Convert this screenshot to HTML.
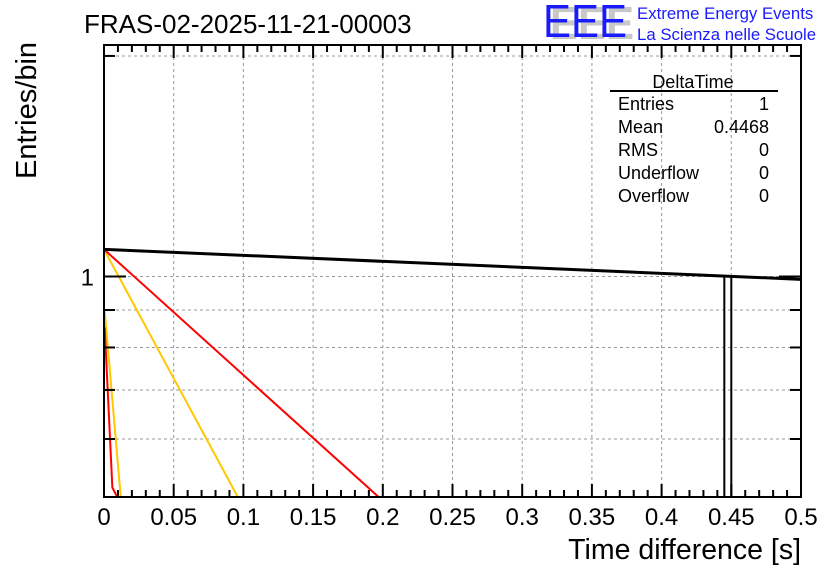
<!DOCTYPE html>
<html><head><meta charset="utf-8"><style>
html,body{margin:0;padding:0;background:#fff;}
svg{display:block;font-family:"Liberation Sans",Arial,sans-serif;}
</style></head><body>
<svg id="chart" width="836" height="572" viewBox="0 0 836 572" xmlns="http://www.w3.org/2000/svg">
<rect width="836" height="572" fill="#fff"/>
<text x="84" y="33" font-size="26" fill="#000">FRAS-02-2025-11-21-00003</text>
<g>
<text x="550" y="39" font-size="46" fill="#c8c8c8" font-weight="bold" textLength="84" lengthAdjust="spacingAndGlyphs">EEE</text>
<text x="543" y="37" font-size="46" fill="#1a1aff" textLength="84" lengthAdjust="spacingAndGlyphs">EEE</text>
<text x="637" y="19" font-size="16.8" fill="#1a1aff">Extreme Energy Events</text>
<text x="637" y="40" font-size="16.8" fill="#1a1aff">La Scienza nelle Scuole</text>
</g>
<g id="grid"></g>
<g id="marks"></g>
<g id="axes"></g>
<text transform="translate(36,179) rotate(-90)" font-size="29" fill="#000">Entries/bin</text>
<text x="801" y="559" text-anchor="end" font-size="28.5" fill="#000">Time difference [s]</text>
<g font-size="18" fill="#000">
<text x="693" y="88" text-anchor="middle">DeltaTime</text>
<line x1="610" y1="91" x2="778" y2="91" stroke="#000" stroke-width="2"/>
<text x="618" y="110">Entries</text><text x="769" y="110" text-anchor="end">1</text>
<text x="618" y="133">Mean</text><text x="769" y="133" text-anchor="end">0.4468</text>
<text x="618" y="156">RMS</text><text x="769" y="156" text-anchor="end">0</text>
<text x="618" y="179">Underflow</text><text x="769" y="179" text-anchor="end">0</text>
<text x="618" y="202">Overflow</text><text x="769" y="202" text-anchor="end">0</text>
</g>
</svg>
<script>
const xTicks=[0,0.05,0.1,0.15,0.2,0.25,0.3,0.35,0.4,0.45,0.5];
const xTickLabels=["0","0.05","0.1","0.15","0.2","0.25","0.3","0.35","0.4","0.45","0.5"];
const yGridValues=[0.6,0.7,0.8,0.9,1,2];
const yMinorTicks=[0.5,0.6,0.7,0.8,0.9,2];
const histEdges=[0.445,0.45];
const histCounts=[1];
const fitBlackX=[0,0.5];
const fitBlackY=[1.089,0.991];
const fitRedX=[0,0.197];
const fitRedY=[1.089,0.5];
const fitYellowX=[0,0.096];
const fitYellowY=[1.089,0.5];
const smallYellowX=[0.0005,0.012];
const smallYellowY=[0.898,0.5];
const smallRedX=[0.0005,0.006,0.0095];
const smallRedY=[0.852,0.515,0.5];

const L=104,R=801,T=45,B=497;
const X0=0,X1=0.5,YMIN=0.5,YMAX=2.07;
function sx(v){return L+(v-X0)/(X1-X0)*(R-L);}
function sy(v){return B-(Math.log10(v)-Math.log10(YMIN))/(Math.log10(YMAX)-Math.log10(YMIN))*(B-T);}
const NS="http://www.w3.org/2000/svg";
function mk(tag,attrs,parent){const e=document.createElementNS(NS,tag);for(const k in attrs)e.setAttribute(k,attrs[k]);parent.appendChild(e);return e;}
const grid=document.getElementById('grid'),marks=document.getElementById('marks'),axes=document.getElementById('axes');
xTicks.forEach((v,i)=>{if(i===0||i===xTicks.length-1)return;
 const l=mk('line',{x1:sx(v),x2:sx(v),y1:T,y2:B,stroke:'#999','stroke-dasharray':'3,3','stroke-width':1},grid);
 
 });
yGridValues.forEach(v=>{
 const l=mk('line',{x1:L,x2:R,y1:sy(v),y2:sy(v),stroke:'#999','stroke-dasharray':'3,3','stroke-width':1},grid);
 
 });
histCounts.forEach((c,i)=>{
 const r=mk('rect',{x:sx(histEdges[i]),y:sy(c),width:sx(histEdges[i+1])-sx(histEdges[i]),height:B-sy(c),fill:'none',stroke:'#000','stroke-width':2},marks);
 
 });
function line(xs,ys,color,name,w){
 const p=mk('polyline',{points:xs.map((x,i)=>sx(x)+','+sy(ys[i])).join(' '),fill:'none',stroke:color,'stroke-width':w},marks);
 
 }
line(fitYellowX,fitYellowY,'#ffc800','fit-yellow',2);
line(fitRedX,fitRedY,'#ff0000','fit-red',2);
line(smallYellowX,smallYellowY,'#ffc800','fit-yellow-steep',2);
line(smallRedX,smallRedY,'#ff0000','fit-red-steep',2);
line(fitBlackX,fitBlackY,'#000','fit-black',3);
const f=mk('rect',{x:L,y:T,width:R-L,height:B-T,fill:'none',stroke:'#000','stroke-width':2},axes);


for(let k=0;k<=50;k++){const v=k*0.01;const major=k%5===0;const h=major?13:7;
 mk('line',{x1:sx(v),x2:sx(v),y1:B,y2:B-h,stroke:'#000','stroke-width':2},axes);
 mk('line',{x1:sx(v),x2:sx(v),y1:T,y2:T+h,stroke:'#000','stroke-width':2},axes);}
xTicks.forEach((v,i)=>{
 const t=mk('text',{x:sx(v),y:B+28,'text-anchor':'middle','font-size':24,fill:'#000'},axes);
 t.textContent=xTickLabels[i];
 
 });
yMinorTicks.concat([1]).forEach(v=>{const h=v===1?22:11;
 mk('line',{x1:L,x2:L+h,y1:sy(v),y2:sy(v),stroke:'#000','stroke-width':2},axes);
 mk('line',{x1:R,x2:R-h,y1:sy(v),y2:sy(v),stroke:'#000','stroke-width':2},axes);});
const yl=mk('text',{x:L-10,y:sy(1)+9,'text-anchor':'end','font-size':24,fill:'#000'},axes);
yl.textContent='1';


</script>
</body></html>
